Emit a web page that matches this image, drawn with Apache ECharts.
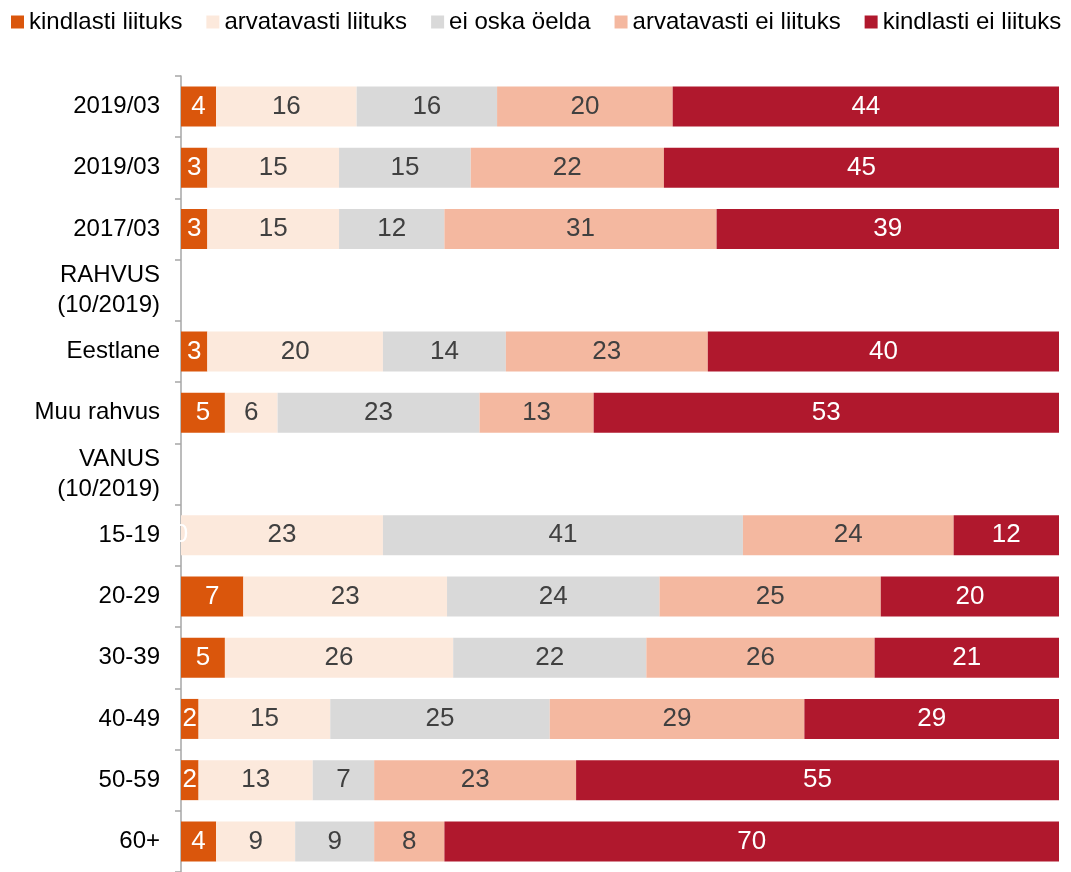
<!DOCTYPE html>
<html style="height: 100%">
<head>
    <meta charset="utf-8">
</head>
<body style="height: 100%; margin: 0">
    <div id="main" style="width: 1071px; height: 872px"></div>
    <script src="https://cdn.jsdelivr.net/npm/echarts@6/dist/echarts.min.js"></script>
    <script type="text/javascript">
        var categories = ['2019/03', '2019/03', '2017/03', 'RAHVUS\n(10/2019)', 'Eestlane', 'Muu rahvus',
            'VANUS\n(10/2019)', '15-19', '20-29', '30-39', '40-49', '50-59', '60+'];
        var seriesNames = ['kindlasti liituks', 'arvatavasti liituks', 'ei oska öelda',
            'arvatavasti ei liituks', 'kindlasti ei liituks'];
        var colors = ['#DA560C', '#FCE9DC', '#D9D9D9', '#F4B8A0', '#B0182D'];
        var labelColors = ['#fff', '#404040', '#404040', '#404040', '#fff'];

        // '-' = heading rows without data
        var kindlastiLiituks = [4, 3, 3, '-', 3, 5, '-', 0, 7.1, 5, 2, 2, 4];
        var arvatavastiLiituks = [16, 15, 15, '-', 20, 6, '-', 23, 23.2, 26, 15, 13, 9];
        var eiOskaOelda = [16, 15, 12, '-', 14, 23, '-', 41, 24.2, 22, 25, 7, 9];
        var arvatavastiEiLiituks = [20, 22, 31, '-', 23, 13, '-', 24, 25.2, 26, 29, 23, 8];
        var kindlastiEiLiituks = [44, 45, 39, '-', 40, 53, '-', 12, 20.3, 21, 29, 55, 70];

        var values = [kindlastiLiituks, arvatavastiLiituks, eiOskaOelda, arvatavastiEiLiituks, kindlastiEiLiituks];

        var chartDom = document.getElementById('main');
        var myChart = echarts.init(chartDom);

        var series = seriesNames.map(function (name, i) {
            return {
                name: name,
                type: 'bar',
                stack: 'total',
                barWidth: 40,
                itemStyle: { color: colors[i] },
                label: {
                    show: true,
                    position: 'inside',
                    color: labelColors[i],
                    fontSize: 26,
                    fontFamily: 'Liberation Sans',
                    formatter: function (p) { return Math.round(p.value); }
                },
                emphasis: { disabled: true },
                data: values[i]
            };
        });

        myChart.setOption({
            animation: false,
            textStyle: { fontFamily: 'Liberation Sans' },
            legend: {
                top: 10,
                left: 11,
                width: 1071,
                padding: 0,
                itemWidth: 13,
                itemHeight: 13,
                itemGap: 24,
                icon: 'rect',
                textStyle: { fontSize: 24, color: '#000' },
                data: seriesNames
            },
            grid: { left: 181, right: 12, top: 76, height: 797 },
            xAxis: {
                type: 'value',
                min: 0,
                max: 100,
                show: false
            },
            yAxis: {
                type: 'category',
                inverse: true,
                data: categories,
                axisLine: { show: true, lineStyle: { color: '#A6A6A6', width: 1.5 } },
                axisTick: { show: true, length: 6, lineStyle: { color: '#A6A6A6', width: 1.5 } },
                axisLabel: {
                    color: '#000',
                    fontSize: 24,
                    margin: 21,
                    lineHeight: 30,
                    align: 'right'
                }
            },
            series: series
        });
    </script>
</body>
</html>
